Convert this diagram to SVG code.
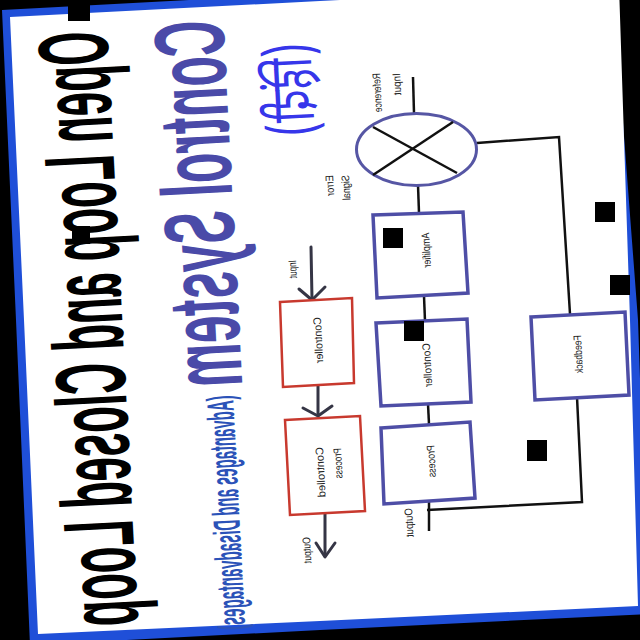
<svg xmlns="http://www.w3.org/2000/svg" width="640" height="640" viewBox="0 0 640 640">
<style>
.lbl{font-family:"Liberation Sans",Arial,sans-serif;font-size:11px;fill:#222}
.red{fill:#fff;stroke:#c8392e;stroke-width:2.5}
.blu{fill:#fff;stroke:#4e4ea6;stroke-width:3.5}
.ln{fill:none;stroke:#111;stroke-width:2.5}
.ar{fill:none;stroke:#353545;stroke-width:3;stroke-linecap:round;stroke-linejoin:round}
.blk{fill:#000}
</style>
<rect x="0" y="0" width="640" height="640" fill="#000"/>
<polygon points="2,10 320,-7 612,-22 638,320 648,614 320,630 30,645 16,320" fill="#1f4fd8"/>
<polygon points="10,17 320,1 619,-14 630,320 638,606 320,621 38,634 24,320" fill="#fff"/>
<g id="title">
<text transform="matrix(.0228 .4354 .9986 -.0523 107 30)" font-family="Liberation Sans,Arial,sans-serif" font-weight="bold" font-size="100" fill="#000">Open Loop and Closed Loop</text>
<text transform="matrix(.0260 .4963 .9986 -.0523 223 19)" font-family="Liberation Sans,Arial,sans-serif" font-weight="bold" font-size="100" fill="#4a4aa8">Control System</text>
<text transform="matrix(.0206 .3925 .9986 -.0523 233 395)" font-family="Liberation Sans,Arial,sans-serif" font-weight="bold" font-size="38" fill="#2b52b8">(Advantages and Disadvantages)</text>
<text transform="matrix(.0356 .6790 .9986 -.0523 310 42)" font-family="Noto Sans Devanagari,Lohit Devanagari,FreeSans,sans-serif" font-size="60" fill="#3636ea">(हिंदी)</text>
</g>
<g id="connectors">
<polyline class="ar" points="311,247 312,299"/>
<polyline class="ar" points="299,289 312,300 325,287"/>
<polyline class="ar" points="318,386 318,414"/>
<polyline class="ar" points="303,408 318,416 332,406"/>
<polyline class="ar" points="325,513 325,556"/>
<polyline class="ar" points="316,543 325,557 335,543"/>
<line class="ln" x1="413" y1="77" x2="414" y2="113"/>
<line class="ln" x1="418" y1="185" x2="419" y2="213"/>
<line class="ln" x1="424" y1="296" x2="425" y2="321"/>
<line class="ln" x1="428" y1="404" x2="429" y2="424"/>
<line class="ln" x1="429" y1="500" x2="429" y2="531"/>
<polyline class="ln" points="427,510 582,502 577,397"/>
<polyline class="ln" points="570,314 559,137 477,143"/>
</g>
<g id="open-input"><text class="lbl" transform="matrix(.0387 .7390 .9986 -.0523 296 260)">Input</text></g>
<g id="open-controller">
<polygon class="red" points="280,302 352,298 354,383 283,387"/>
<text class="lbl" text-anchor="middle" transform="matrix(.0505 .9640 .9986 -.0523 322 340)">Controller</text>
</g>
<g id="controlled-process">
<polygon class="red" points="285,420 360,416 365,511 290,515"/>
<text class="lbl" transform="matrix(.0523 .9986 .9986 -.0523 323 447)">Controlled</text>
<text class="lbl" transform="matrix(.0400 .7640 .9986 -.0523 341 448)">Process</text>
</g>
<g id="open-output"><text class="lbl" transform="matrix(.0413 .7890 .9986 -.0523 310 537)">Output</text></g>
<g id="summing-junction">
<ellipse cx="416.5" cy="149.5" rx="60" ry="36" fill="#fff" stroke="#5656a4" stroke-width="3"/>
<line class="ln" x1="373" y1="127" x2="457" y2="173"/>
<line class="ln" x1="453" y1="122" x2="373" y2="175"/>
<text class="lbl" transform="matrix(.0403 .7690 .9986 -.0523 380 73)">Reference</text>
<text class="lbl" transform="matrix(.0471 .8990 .9986 -.0523 400 73)">Input</text>
<text class="lbl" transform="matrix(.0450 .8590 .9986 -.0523 333 175)">Error</text>
<text class="lbl" transform="matrix(.0429 .8190 .9986 -.0523 349 175)">Signal</text>
</g>
<g id="amplifier">
<polygon class="blu" points="373,215 463,212 468,293 377,298"/>
<text class="lbl" text-anchor="middle" transform="matrix(.0429 .8190 .9986 -.0523 430 250)">Amplifier</text>
</g>
<g id="controller">
<polygon class="blu" points="376,323 467,319 471,402 381,406"/>
<text class="lbl" text-anchor="middle" transform="matrix(.0481 .9190 .9986 -.0523 431 365)">Controller</text>
</g>
<g id="process">
<polygon class="blu" points="381,428 470,422 475,498 384,504"/>
<text class="lbl" text-anchor="middle" transform="matrix(.0424 .8090 .9986 -.0523 435 461)">Process</text>
</g>
<g id="feedback">
<polygon class="blu" points="531,317 625,312 629,395 535,400"/>
<text class="lbl" text-anchor="middle" transform="matrix(.0413 .7890 .9986 -.0523 582 354)">Feedback</text>
</g>
<g id="closed-output"><text class="lbl" transform="matrix(.0460 .8790 .9986 -.0523 412 508)">Output</text></g>
<g id="specks">
<rect class="blk" x="68" y="0" width="22" height="21"/>
<rect class="blk" x="72" y="226" width="18" height="18"/>
<rect class="blk" x="383" y="228" width="20" height="20"/>
<rect class="blk" x="404" y="321" width="20" height="20"/>
<rect class="blk" x="527" y="440" width="20" height="21"/>
<rect class="blk" x="595" y="202" width="20" height="20"/>
<rect class="blk" x="610" y="275" width="20" height="20"/>
</g>
</svg>
